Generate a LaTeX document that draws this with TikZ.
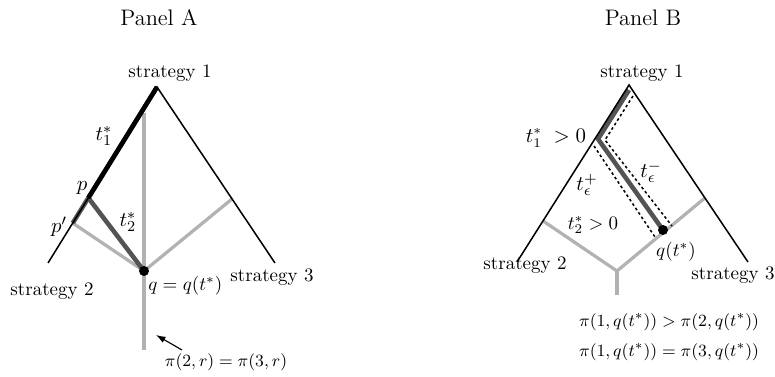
\documentclass[tikz,border=0pt]{standalone}
\usetikzlibrary{calc,arrows.meta}
\definecolor{lgray}{gray}{0.70}
\definecolor{dgray}{gray}{0.33}
\begin{document}
\begin{tikzpicture}[x=0.526pt,y=-0.526pt,
  edge/.style={line width=0.8pt,black},
  light/.style={line width=1.7pt,lgray},
  darkline/.style={line width=2.4pt,dgray},
  blackthick/.style={line width=2.4pt,black},
  dotline/.style={line width=0.8pt,dash pattern=on 1.4pt off 1.4pt},
  lbl/.style={inner sep=1pt},
  mid/.style={inner sep=1pt,font=\fontsize{11}{13}\selectfont},
  small/.style={inner sep=1pt,font=\fontsize{9.5}{11}\selectfont},
  title/.style={font=\fontsize{11.8}{14}\selectfont}]
\useasboundingbox (0,0) rectangle (775,377);
% ---------------- Panel A ----------------
\coordinate (A1) at (157,87);
\coordinate (A2) at (48,263);
\coordinate (A3) at (275,263);
\coordinate (Ap) at ($(A1)!0.63!(A2)$);
\coordinate (App) at ($(A1)!0.773!(A2)$);
\coordinate (Ar) at ($(A1)!0.636!(A3)$);
\coordinate (Aq) at (144,271);
\coordinate (Atop) at (144,113);
\coordinate (Abot) at (144,350);
\draw[light] (Atop) -- (Abot);
\draw[light] (Aq) -- (Ar);
\draw[light] (Aq) -- (App);
\draw[darkline] (Aq) -- (Ap);
\draw[darkline] (A1) -- (App);
\draw[edge] (A2) -- (A1) -- (A3);
\draw[blackthick] (A1) -- (Ap);
\fill (Aq) circle[radius=5];
\node[title] (tA) at (159,18) {Panel A};
\node[lbl] (s1A) at (170,73) {strategy 1};
\node[lbl] (s2A) at (52,291) {strategy 2};
\node[lbl] (s3A) at (272,277) {strategy 3};
\node[mid] (t1A) at (104,136) {$t_1^*$};
\node[mid] (pA) at (82,188) {$p$};
\node[mid] (ppA) at (59,227) {$p'$};
\node[mid] (t2A) at (128,222) {$t_2^*$};
\node[lbl,anchor=west] (qA) at (146,286) {$q=q(t^*)$};
\node[small] (fA) at (226,362) {$\pi(2,r)=\pi(3,r)$};
\coordinate (arrS) at (182,350);
\coordinate (arrE) at (156,335);
\draw[-{Latex[length=5pt,width=3.5pt]},line width=0.6pt] (arrS) -- (arrE);
% ---------------- Panel B ----------------
\coordinate (B1) at (629,85);
\coordinate (B2) at (517,262);
\coordinate (B3) at (748,262);
\coordinate (Bj) at (617,271);
\coordinate (Bl) at ($(B1)!0.768!(B2)$);
\coordinate (Br) at ($(B1)!0.638!(B3)$);
\coordinate (Bbot) at (617,295);
\coordinate (Bs) at (598,139);
\coordinate (Btop) at (629,90);
\coordinate (Bq) at (663,230);
\draw[light] (Bl) -- (Bj) -- (Br);
\draw[light] (Bj) -- (Bbot);
\draw[darkline] (Btop) -- (Bs) -- (Bq);
\draw[edge] (B2) -- (B1) -- (B3);
\coordinate (m1) at (633,96);
\coordinate (m2) at (605,140);
\coordinate (m3) at (672,226);
\coordinate (p1) at (594,146);
\coordinate (p2) at (655,237);
\draw[dotline] (m1) -- (m2) -- (m3);
\draw[dotline] (p1) -- (p2);
\fill (Bq) circle[radius=5];
\node[title] (tB) at (643,18) {Panel B};
\node[lbl] (s1B) at (642,73) {strategy 1};
\node[lbl] (s2B) at (525,265) {strategy 2};
\node[lbl] (s3B) at (733,275) {strategy 3};
\node[lbl,font=\fontsize{10.5}{12}\selectfont] (t1B) at (556,138) {$t_1^*\hspace{3pt}>0$};
\node[mid] (tpB) at (587,185) {$t_\epsilon^+$};
\node[mid] (tmB) at (651,172) {$t_\epsilon^-$};
\node[lbl] (t2B) at (593,225) {$t_2^*>0$};
\node[lbl] (qB) at (676,252) {$q(t^*)$};
\node[small] (f1B) at (669,322) {$\pi(1,q(t^*))>\pi(2,q(t^*))$};
\node[small] (f2B) at (669,352) {$\pi(1,q(t^*))=\pi(3,q(t^*))$};
\end{tikzpicture}
\end{document}
